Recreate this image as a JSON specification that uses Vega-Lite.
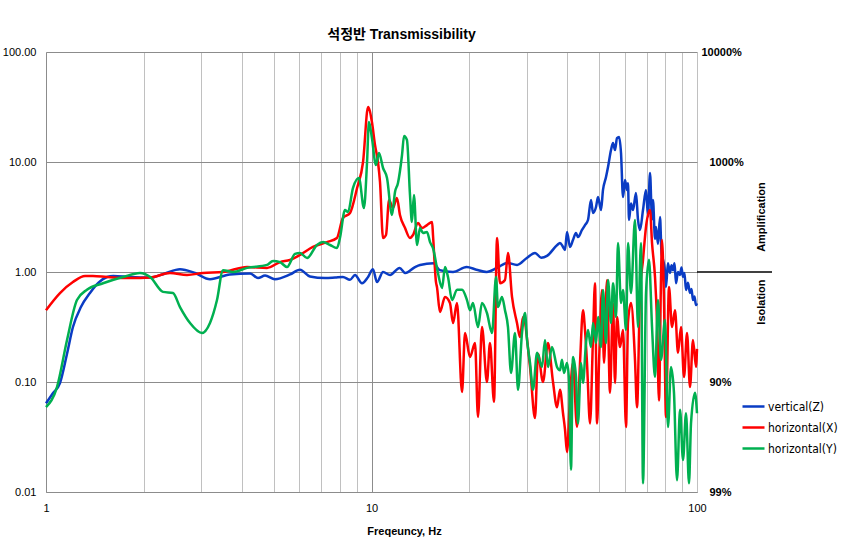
{
  "$schema": "https://vega.github.io/schema/vega-lite/v6.json",
  "width": 651,
  "height": 440,
  "autosize": {"type": "none"},
  "padding": {"left": 46, "top": 52, "right": 148, "bottom": 51},
  "background": "white",
  "title": {"text": "석정반 Transmissibility", "font": "Liberation Sans, Noto Sans CJK KR", "fontSize": 14, "fontWeight": "bold", "dx": 30, "offset": 4, "color": "black"},
  "layer": [
    {
      "data": {"values": [
        {"s":"vertical(Z)","f":1,"v":0.064},{"s":"vertical(Z)","f":1.05,"v":0.079},{"s":"vertical(Z)","f":1.104,"v":0.098},{"s":"vertical(Z)","f":1.16,"v":0.18},{"s":"vertical(Z)","f":1.21,"v":0.316},{"s":"vertical(Z)","f":1.28,"v":0.48},{"s":"vertical(Z)","f":1.365,"v":0.644},{"s":"vertical(Z)","f":1.45,"v":0.8},{"s":"vertical(Z)","f":1.54,"v":0.9},{"s":"vertical(Z)","f":1.61,"v":0.92},{"s":"vertical(Z)","f":1.81,"v":0.9},{"s":"vertical(Z)","f":2.09,"v":0.89},{"s":"vertical(Z)","f":2.32,"v":0.97},{"s":"vertical(Z)","f":2.58,"v":1.06},{"s":"vertical(Z)","f":2.87,"v":0.98},{"s":"vertical(Z)","f":3.19,"v":0.86},{"s":"vertical(Z)","f":3.67,"v":0.95},{"s":"vertical(Z)","f":4.24,"v":0.97},{"s":"vertical(Z)","f":4.48,"v":0.88},{"s":"vertical(Z)","f":4.71,"v":0.93},{"s":"vertical(Z)","f":5.05,"v":0.86},{"s":"vertical(Z)","f":5.62,"v":0.95},{"s":"vertical(Z)","f":6.03,"v":1.05},{"s":"vertical(Z)","f":6.47,"v":0.91},{"s":"vertical(Z)","f":7.2,"v":0.88},{"s":"vertical(Z)","f":7.73,"v":0.89},{"s":"vertical(Z)","f":8.17,"v":0.9},{"s":"vertical(Z)","f":8.59,"v":0.85},{"s":"vertical(Z)","f":8.9,"v":0.94},{"s":"vertical(Z)","f":9.35,"v":0.79},{"s":"vertical(Z)","f":9.76,"v":0.9},{"s":"vertical(Z)","f":10.1,"v":1.06},{"s":"vertical(Z)","f":10.4,"v":0.81},{"s":"vertical(Z)","f":10.85,"v":1.0},{"s":"vertical(Z)","f":11.4,"v":0.94},{"s":"vertical(Z)","f":12.2,"v":1.09},{"s":"vertical(Z)","f":12.7,"v":0.98},{"s":"vertical(Z)","f":13.6,"v":1.11},{"s":"vertical(Z)","f":14.1,"v":1.16},{"s":"vertical(Z)","f":15.5,"v":1.2},{"s":"vertical(Z)","f":16.2,"v":1.04},{"s":"vertical(Z)","f":17.8,"v":1.0},{"s":"vertical(Z)","f":19.6,"v":1.11},{"s":"vertical(Z)","f":21,"v":1.05},{"s":"vertical(Z)","f":22.6,"v":1.0},{"s":"vertical(Z)","f":24.3,"v":1.09},{"s":"vertical(Z)","f":26.1,"v":1.21},{"s":"vertical(Z)","f":28.0,"v":1.16},{"s":"vertical(Z)","f":30.0,"v":1.34},{"s":"vertical(Z)","f":31.8,"v":1.49},{"s":"vertical(Z)","f":33.2,"v":1.35},{"s":"vertical(Z)","f":34.6,"v":1.4},{"s":"vertical(Z)","f":37.2,"v":1.76},{"s":"vertical(Z)","f":37.94,"v":1.835},{"s":"vertical(Z)","f":38.76,"v":1.69},{"s":"vertical(Z)","f":39.31,"v":1.585},{"s":"vertical(Z)","f":39.87,"v":2.31},{"s":"vertical(Z)","f":40.72,"v":1.69},{"s":"vertical(Z)","f":41.59,"v":1.95},{"s":"vertical(Z)","f":42.49,"v":2.26},{"s":"vertical(Z)","f":43.09,"v":2.08},{"s":"vertical(Z)","f":44.33,"v":2.41},{"s":"vertical(Z)","f":45.28,"v":2.67},{"s":"vertical(Z)","f":46.25,"v":2.97},{"s":"vertical(Z)","f":47.25,"v":4.51},{"s":"vertical(Z)","f":47.92,"v":3.44},{"s":"vertical(Z)","f":48.95,"v":3.9},{"s":"vertical(Z)","f":49.65,"v":4.8},{"s":"vertical(Z)","f":50.71,"v":3.66},{"s":"vertical(Z)","f":51.43,"v":5.57},{"s":"vertical(Z)","f":52.54,"v":7.3},{"s":"vertical(Z)","f":53.29,"v":9.0},{"s":"vertical(Z)","f":54.43,"v":12.85},{"s":"vertical(Z)","f":55.21,"v":14.9},{"s":"vertical(Z)","f":55.99,"v":12.85},{"s":"vertical(Z)","f":56.78,"v":16.5},{"s":"vertical(Z)","f":57.6,"v":16.9},{"s":"vertical(Z)","f":58.42,"v":12.07},{"s":"vertical(Z)","f":59.25,"v":4.8},{"s":"vertical(Z)","f":60.1,"v":6.86},{"s":"vertical(Z)","f":60.95,"v":5.57},{"s":"vertical(Z)","f":61.38,"v":6.4},{"s":"vertical(Z)","f":61.82,"v":2.97},{"s":"vertical(Z)","f":62.7,"v":4.2},{"s":"vertical(Z)","f":63.59,"v":3.66},{"s":"vertical(Z)","f":64.95,"v":5.23},{"s":"vertical(Z)","f":65.87,"v":3.0},{"s":"vertical(Z)","f":66.82,"v":2.41},{"s":"vertical(Z)","f":68.25,"v":3.66},{"s":"vertical(Z)","f":69.72,"v":5.57},{"s":"vertical(Z)","f":70.7,"v":3.2},{"s":"vertical(Z)","f":71.72,"v":7.95},{"s":"vertical(Z)","f":72.75,"v":3.0},{"s":"vertical(Z)","f":73.25,"v":4.51},{"s":"vertical(Z)","f":74.3,"v":2.0},{"s":"vertical(Z)","f":74.82,"v":2.57},{"s":"vertical(Z)","f":75.88,"v":1.8},{"s":"vertical(Z)","f":76.98,"v":3.16},{"s":"vertical(Z)","f":77.8,"v":1.5},{"s":"vertical(Z)","f":78.63,"v":1.29},{"s":"vertical(Z)","f":79.5,"v":1.1},{"s":"vertical(Z)","f":80.31,"v":0.73},{"s":"vertical(Z)","f":81.4,"v":1.2},{"s":"vertical(Z)","f":82.62,"v":0.98},{"s":"vertical(Z)","f":83.5,"v":1.15},{"s":"vertical(Z)","f":84.39,"v":1.04},{"s":"vertical(Z)","f":85.3,"v":1.2},{"s":"vertical(Z)","f":86.2,"v":0.79},{"s":"vertical(Z)","f":87.4,"v":1.0},{"s":"vertical(Z)","f":88.68,"v":0.94},{"s":"vertical(Z)","f":89.6,"v":1.1},{"s":"vertical(Z)","f":90.58,"v":0.9},{"s":"vertical(Z)","f":91.5,"v":0.98},{"s":"vertical(Z)","f":92.52,"v":0.686},{"s":"vertical(Z)","f":93.8,"v":0.8},{"s":"vertical(Z)","f":95.17,"v":0.644},{"s":"vertical(Z)","f":96.2,"v":0.7},{"s":"vertical(Z)","f":97.21,"v":0.556},{"s":"vertical(Z)","f":98.2,"v":0.6},{"s":"vertical(Z)","f":99.29,"v":0.5},{"s":"vertical(Z)","f":100,"v":0.52},
        {"s":"horizontal(X)","f":1,"v":0.45},{"s":"horizontal(X)","f":1.104,"v":0.644},{"s":"horizontal(X)","f":1.21,"v":0.81},{"s":"horizontal(X)","f":1.318,"v":0.92},{"s":"horizontal(X)","f":1.394,"v":0.92},{"s":"horizontal(X)","f":1.54,"v":0.9},{"s":"horizontal(X)","f":1.81,"v":0.88},{"s":"horizontal(X)","f":2.09,"v":0.89},{"s":"horizontal(X)","f":2.404,"v":0.98},{"s":"horizontal(X)","f":2.712,"v":0.94},{"s":"horizontal(X)","f":3.036,"v":0.98},{"s":"horizontal(X)","f":3.498,"v":1.0},{"s":"horizontal(X)","f":4.146,"v":1.11},{"s":"horizontal(X)","f":4.775,"v":1.09},{"s":"horizontal(X)","f":5.236,"v":1.23},{"s":"horizontal(X)","f":5.62,"v":1.29},{"s":"horizontal(X)","f":6.03,"v":1.43},{"s":"horizontal(X)","f":6.61,"v":1.69},{"s":"horizontal(X)","f":7.3,"v":1.87},{"s":"horizontal(X)","f":7.83,"v":2.04},{"s":"horizontal(X)","f":8.17,"v":3.1},{"s":"horizontal(X)","f":8.59,"v":3.44},{"s":"horizontal(X)","f":9.03,"v":5.8},{"s":"horizontal(X)","f":9.42,"v":10},{"s":"horizontal(X)","f":9.76,"v":31.6},{"s":"horizontal(X)","f":10.03,"v":23.1},{"s":"horizontal(X)","f":10.25,"v":14.3},{"s":"horizontal(X)","f":10.47,"v":10},{"s":"horizontal(X)","f":10.62,"v":6.58},{"s":"horizontal(X)","f":10.85,"v":2.04},{"s":"horizontal(X)","f":11.08,"v":2.17},{"s":"horizontal(X)","f":11.32,"v":4.51},{"s":"horizontal(X)","f":11.64,"v":3.82},{"s":"horizontal(X)","f":11.97,"v":4.71},{"s":"horizontal(X)","f":12.23,"v":3.3},{"s":"horizontal(X)","f":12.68,"v":2.51},{"s":"horizontal(X)","f":13.13,"v":2.04},{"s":"horizontal(X)","f":13.41,"v":2.17},{"s":"horizontal(X)","f":13.9,"v":2.79},{"s":"horizontal(X)","f":14.29,"v":2.51},{"s":"horizontal(X)","f":14.81,"v":2.67},{"s":"horizontal(X)","f":15.35,"v":2.85},{"s":"horizontal(X)","f":15.45,"v":2.17},{"s":"horizontal(X)","f":15.78,"v":0.81},{"s":"horizontal(X)","f":15.89,"v":0.73},{"s":"horizontal(X)","f":16.23,"v":0.433},{"s":"horizontal(X)","f":16.82,"v":0.593},{"s":"horizontal(X)","f":17.42,"v":0.523},{"s":"horizontal(X)","f":17.8,"v":0.344},{"s":"horizontal(X)","f":18.31,"v":0.523},{"s":"horizontal(X)","f":18.97,"v":0.081},{"s":"horizontal(X)","f":19.38,"v":0.279},{"s":"horizontal(X)","f":20.07,"v":0.169},{"s":"horizontal(X)","f":20.8,"v":0.226},{"s":"horizontal(X)","f":21.24,"v":0.048},{"s":"horizontal(X)","f":21.85,"v":0.316},{"s":"horizontal(X)","f":22.63,"v":0.1},{"s":"horizontal(X)","f":23.12,"v":0.226},{"s":"horizontal(X)","f":23.79,"v":0.066},{"s":"horizontal(X)","f":24.3,"v":2.04},{"s":"horizontal(X)","f":24.82,"v":0.79},{"s":"horizontal(X)","f":25.71,"v":0.846},{"s":"horizontal(X)","f":26.26,"v":1.49},{"s":"horizontal(X)","f":27.02,"v":0.593},{"s":"horizontal(X)","f":27.99,"v":0.344},{"s":"horizontal(X)","f":28.59,"v":0.256},{"s":"horizontal(X)","f":29.21,"v":0.39},{"s":"horizontal(X)","f":30.69,"v":0.137},{"s":"horizontal(X)","f":31.79,"v":0.047},{"s":"horizontal(X)","f":32.48,"v":0.18},{"s":"horizontal(X)","f":33.64,"v":0.1},{"s":"horizontal(X)","f":34.85,"v":0.226},{"s":"horizontal(X)","f":36.11,"v":0.1},{"s":"horizontal(X)","f":37.15,"v":0.059},{"s":"horizontal(X)","f":37.94,"v":0.085},{"s":"horizontal(X)","f":38.76,"v":0.052},{"s":"horizontal(X)","f":39.31,"v":0.037},{"s":"horizontal(X)","f":39.87,"v":0.023},{"s":"horizontal(X)","f":40.72,"v":0.073},{"s":"horizontal(X)","f":41.59,"v":0.149},{"s":"horizontal(X)","f":42.79,"v":0.039},{"s":"horizontal(X)","f":43.71,"v":0.149},{"s":"horizontal(X)","f":44.64,"v":0.45},{"s":"horizontal(X)","f":45.28,"v":0.297},{"s":"horizontal(X)","f":45.93,"v":0.149},{"s":"horizontal(X)","f":46.92,"v":0.042},{"s":"horizontal(X)","f":47.92,"v":0.256},{"s":"horizontal(X)","f":48.6,"v":0.79},{"s":"horizontal(X)","f":49.3,"v":0.042},{"s":"horizontal(X)","f":50.0,"v":0.149},{"s":"horizontal(X)","f":51.07,"v":0.686},{"s":"horizontal(X)","f":51.8,"v":0.149},{"s":"horizontal(X)","f":52.91,"v":0.846},{"s":"horizontal(X)","f":54.04,"v":0.08},{"s":"horizontal(X)","f":55.21,"v":0.523},{"s":"horizontal(X)","f":55.99,"v":0.098},{"s":"horizontal(X)","f":56.78,"v":0.39},{"s":"horizontal(X)","f":58.0,"v":0.208},{"s":"horizontal(X)","f":59.25,"v":0.297},{"s":"horizontal(X)","f":60.53,"v":0.039},{"s":"horizontal(X)","f":61.38,"v":0.35},{"s":"horizontal(X)","f":62.7,"v":0.523},{"s":"horizontal(X)","f":64.49,"v":0.159},{"s":"horizontal(X)","f":65.42,"v":0.059},{"s":"horizontal(X)","f":66.82,"v":0.644},{"s":"horizontal(X)","f":68.25,"v":1.29},{"s":"horizontal(X)","f":69.72,"v":2.57},{"s":"horizontal(X)","f":71.72,"v":3.66},{"s":"horizontal(X)","f":72.75,"v":1.835},{"s":"horizontal(X)","f":74.3,"v":0.9},{"s":"horizontal(X)","f":75.35,"v":0.366},{"s":"horizontal(X)","f":76.42,"v":0.068},{"s":"horizontal(X)","f":77.51,"v":0.846},{"s":"horizontal(X)","f":78.07,"v":1.95},{"s":"horizontal(X)","f":79.17,"v":0.556},{"s":"horizontal(X)","f":80.31,"v":0.048},{"s":"horizontal(X)","f":82.03,"v":0.73},{"s":"horizontal(X)","f":83.79,"v":0.316},{"s":"horizontal(X)","f":85.59,"v":0.45},{"s":"horizontal(X)","f":87.42,"v":0.184},{"s":"horizontal(X)","f":89.3,"v":0.316},{"s":"horizontal(X)","f":91.23,"v":0.111},{"s":"horizontal(X)","f":93.18,"v":0.279},{"s":"horizontal(X)","f":95.17,"v":0.09},{"s":"horizontal(X)","f":97.21,"v":0.241},{"s":"horizontal(X)","f":99.29,"v":0.137},{"s":"horizontal(X)","f":100,"v":0.2},
        {"s":"horizontal(Y)","f":1,"v":0.059},{"s":"horizontal(Y)","f":1.081,"v":0.09},{"s":"horizontal(Y)","f":1.16,"v":0.24},{"s":"horizontal(Y)","f":1.245,"v":0.556},{"s":"horizontal(Y)","f":1.336,"v":0.69},{"s":"horizontal(Y)","f":1.497,"v":0.79},{"s":"horizontal(Y)","f":1.724,"v":0.9},{"s":"horizontal(Y)","f":1.944,"v":0.98},{"s":"horizontal(Y)","f":2.09,"v":0.9},{"s":"horizontal(Y)","f":2.288,"v":0.66},{"s":"horizontal(Y)","f":2.455,"v":0.644},{"s":"horizontal(Y)","f":2.58,"v":0.48},{"s":"horizontal(Y)","f":2.77,"v":0.344},{"s":"horizontal(Y)","f":3.015,"v":0.279},{"s":"horizontal(Y)","f":3.19,"v":0.344},{"s":"horizontal(Y)","f":3.352,"v":0.556},{"s":"horizontal(Y)","f":3.498,"v":1.04},{"s":"horizontal(Y)","f":3.754,"v":1.0},{"s":"horizontal(Y)","f":4.146,"v":1.09},{"s":"horizontal(Y)","f":4.775,"v":1.16},{"s":"horizontal(Y)","f":4.983,"v":1.26},{"s":"horizontal(Y)","f":5.236,"v":1.23},{"s":"horizontal(Y)","f":5.5,"v":1.11},{"s":"horizontal(Y)","f":5.82,"v":1.46},{"s":"horizontal(Y)","f":6.03,"v":1.49},{"s":"horizontal(Y)","f":6.34,"v":1.34},{"s":"horizontal(Y)","f":6.8,"v":1.76},{"s":"horizontal(Y)","f":7.1,"v":1.87},{"s":"horizontal(Y)","f":7.46,"v":1.76},{"s":"horizontal(Y)","f":7.83,"v":1.65},{"s":"horizontal(Y)","f":8.0,"v":2.04},{"s":"horizontal(Y)","f":8.29,"v":3.66},{"s":"horizontal(Y)","f":8.47,"v":3.51},{"s":"horizontal(Y)","f":8.77,"v":5.8},{"s":"horizontal(Y)","f":9.15,"v":7.16},{"s":"horizontal(Y)","f":9.48,"v":3.82},{"s":"horizontal(Y)","f":9.69,"v":10},{"s":"horizontal(Y)","f":9.82,"v":23.1},{"s":"horizontal(Y)","f":10.03,"v":16.5},{"s":"horizontal(Y)","f":10.32,"v":9.39},{"s":"horizontal(Y)","f":10.54,"v":12.07},{"s":"horizontal(Y)","f":10.85,"v":8.82},{"s":"horizontal(Y)","f":11.16,"v":7.16},{"s":"horizontal(Y)","f":11.56,"v":3.3},{"s":"horizontal(Y)","f":11.81,"v":5.34},{"s":"horizontal(Y)","f":12.06,"v":6.45},{"s":"horizontal(Y)","f":12.41,"v":11.58},{"s":"horizontal(Y)","f":12.59,"v":17.2},{"s":"horizontal(Y)","f":12.85,"v":15.85},{"s":"horizontal(Y)","f":13.13,"v":5.01},{"s":"horizontal(Y)","f":13.31,"v":2.85},{"s":"horizontal(Y)","f":13.5,"v":5.01},{"s":"horizontal(Y)","f":13.8,"v":1.76},{"s":"horizontal(Y)","f":14.09,"v":2.51},{"s":"horizontal(Y)","f":14.39,"v":2.26},{"s":"horizontal(Y)","f":14.81,"v":2.31},{"s":"horizontal(Y)","f":15.13,"v":1.87},{"s":"horizontal(Y)","f":15.45,"v":1.65},{"s":"horizontal(Y)","f":16.0,"v":0.98},{"s":"horizontal(Y)","f":16.47,"v":0.715},{"s":"horizontal(Y)","f":16.82,"v":1.11},{"s":"horizontal(Y)","f":17.18,"v":0.9},{"s":"horizontal(Y)","f":17.68,"v":0.556},{"s":"horizontal(Y)","f":18.31,"v":0.69},{"s":"horizontal(Y)","f":18.97,"v":0.69},{"s":"horizontal(Y)","f":19.65,"v":0.556},{"s":"horizontal(Y)","f":20.07,"v":0.45},{"s":"horizontal(Y)","f":20.5,"v":0.523},{"s":"horizontal(Y)","f":21.24,"v":0.316},{"s":"horizontal(Y)","f":21.85,"v":0.523},{"s":"horizontal(Y)","f":22.63,"v":0.424},{"s":"horizontal(Y)","f":23.46,"v":0.279},{"s":"horizontal(Y)","f":24.13,"v":0.9},{"s":"horizontal(Y)","f":24.47,"v":0.48},{"s":"horizontal(Y)","f":25.17,"v":0.593},{"s":"horizontal(Y)","f":25.71,"v":0.45},{"s":"horizontal(Y)","f":26.26,"v":0.316},{"s":"horizontal(Y)","f":26.83,"v":0.121},{"s":"horizontal(Y)","f":27.6,"v":0.279},{"s":"horizontal(Y)","f":28.19,"v":0.085},{"s":"horizontal(Y)","f":29.0,"v":0.279},{"s":"horizontal(Y)","f":29.62,"v":0.424},{"s":"horizontal(Y)","f":30.05,"v":0.241},{"s":"horizontal(Y)","f":30.69,"v":0.149},{"s":"horizontal(Y)","f":31.35,"v":0.085},{"s":"horizontal(Y)","f":32.25,"v":0.184},{"s":"horizontal(Y)","f":33.41,"v":0.137},{"s":"horizontal(Y)","f":34.12,"v":0.241},{"s":"horizontal(Y)","f":34.85,"v":0.137},{"s":"horizontal(Y)","f":35.85,"v":0.208},{"s":"horizontal(Y)","f":37.15,"v":0.137},{"s":"horizontal(Y)","f":37.94,"v":0.128},{"s":"horizontal(Y)","f":38.48,"v":0.159},{"s":"horizontal(Y)","f":39.03,"v":0.121},{"s":"horizontal(Y)","f":39.87,"v":0.149},{"s":"horizontal(Y)","f":40.44,"v":0.104},{"s":"horizontal(Y)","f":41.01,"v":0.016},{"s":"horizontal(Y)","f":41.59,"v":0.169},{"s":"horizontal(Y)","f":42.49,"v":0.111},{"s":"horizontal(Y)","f":43.09,"v":0.042},{"s":"horizontal(Y)","f":44.02,"v":0.149},{"s":"horizontal(Y)","f":44.64,"v":0.098},{"s":"horizontal(Y)","f":45.6,"v":0.226},{"s":"horizontal(Y)","f":46.25,"v":0.297},{"s":"horizontal(Y)","f":47.25,"v":0.208},{"s":"horizontal(Y)","f":47.92,"v":0.344},{"s":"horizontal(Y)","f":48.95,"v":0.226},{"s":"horizontal(Y)","f":49.65,"v":0.39},{"s":"horizontal(Y)","f":50.71,"v":0.208},{"s":"horizontal(Y)","f":51.43,"v":0.686},{"s":"horizontal(Y)","f":52.54,"v":0.226},{"s":"horizontal(Y)","f":53.29,"v":0.846},{"s":"horizontal(Y)","f":54.43,"v":0.344},{"s":"horizontal(Y)","f":55.21,"v":0.79},{"s":"horizontal(Y)","f":56.39,"v":0.39},{"s":"horizontal(Y)","f":57.19,"v":1.835},{"s":"horizontal(Y)","f":58.42,"v":0.523},{"s":"horizontal(Y)","f":59.25,"v":0.686},{"s":"horizontal(Y)","f":60.53,"v":0.297},{"s":"horizontal(Y)","f":61.38,"v":1.835},{"s":"horizontal(Y)","f":62.7,"v":0.644},{"s":"horizontal(Y)","f":64.49,"v":2.97},{"s":"horizontal(Y)","f":65.87,"v":0.316},{"s":"horizontal(Y)","f":67.3,"v":1.835},{"s":"horizontal(Y)","f":68.25,"v":0.012},{"s":"horizontal(Y)","f":69.72,"v":0.644},{"s":"horizontal(Y)","f":71.21,"v":1.29},{"s":"horizontal(Y)","f":72.75,"v":0.316},{"s":"horizontal(Y)","f":74.3,"v":0.111},{"s":"horizontal(Y)","f":75.88,"v":0.556},{"s":"horizontal(Y)","f":77.51,"v":0.159},{"s":"horizontal(Y)","f":79.74,"v":0.366},{"s":"horizontal(Y)","f":81.45,"v":0.039},{"s":"horizontal(Y)","f":83.2,"v":0.137},{"s":"horizontal(Y)","f":84.97,"v":0.08},{"s":"horizontal(Y)","f":86.82,"v":0.0128},{"s":"horizontal(Y)","f":88.68,"v":0.056},{"s":"horizontal(Y)","f":90.58,"v":0.0195},{"s":"horizontal(Y)","f":92.52,"v":0.052},{"s":"horizontal(Y)","f":94.5,"v":0.012},{"s":"horizontal(Y)","f":95.85,"v":0.042},{"s":"horizontal(Y)","f":98.6,"v":0.08},{"s":"horizontal(Y)","f":100,"v":0.052}
      ]},
      "mark": {"type": "line", "strokeWidth": 2.5, "interpolate": "monotone", "strokeJoin": "round"},
      "encoding": {
        "x": {
          "field": "f", "type": "quantitative",
          "scale": {"type": "log", "domain": [1, 100], "nice": false},
          "axis": {
            "values": [1, 2, 3, 4, 5, 6, 7, 8, 9, 10, 20, 30, 40, 50, 60, 70, 80, 90, 100],
            "format": "d",
            "labelExpr": "indexof([1, 10, 100], datum.value) >= 0 ? datum.label : ''",
            "labelFlush": false,
            "ticks": false,
            "labelPadding": 10,
            "labelFontSize": 11,
            "labelFont": "Liberation Sans",
            "labelColor": "black",
            "domainColor": "#8c8c8c",
            "gridColor": {"condition": {"test": "datum.value == 10", "value": "#8c8c8c"}, "value": "#c0c0c0"},
            "title": "Freqeuncy, Hz",
            "titleFont": "Liberation Sans Narrow, Liberation Sans",
            "titleFontSize": 11,
            "titleFontWeight": "bold",
            "titleColor": "black",
            "titleX": 358,
            "titleY": 39,
            "titleBaseline": "middle"
          }
        },
        "y": {
          "field": "v", "type": "quantitative",
          "scale": {"type": "log", "domain": [0.01, 100], "nice": false},
          "axis": {
            "values": [0.01, 0.1, 1, 10, 100],
            "format": ".2f",
            "ticks": false,
            "labelPadding": 10,
            "labelFontSize": 11,
            "labelFont": "Liberation Sans",
            "labelColor": "black",
            "domainColor": "#8c8c8c",
            "gridColor": "#8c8c8c",
            "title": null
          }
        },
        "color": {
          "field": "s", "type": "nominal",
          "scale": {"domain": ["vertical(Z)", "horizontal(X)", "horizontal(Y)"], "range": ["#0a3cc4", "#ff0000", "#00b050"]},
          "legend": {
            "orient": "none", "legendX": 695, "legendY": 342, "title": null,
            "symbolType": "stroke", "symbolSize": 484, "symbolStrokeWidth": 2.5,
            "labelFont": "Liberation Sans Narrow, DejaVu Sans Condensed, sans-serif",
            "labelFontSize": 12, "labelColor": "black", "labelOffset": 2, "rowPadding": 2
          }
        }
      }
    },
    {
      "data": {"values": [{"f": 100, "f2": 170, "v": 1}]},
      "mark": {"type": "rule", "color": "black", "strokeWidth": 1.3},
      "encoding": {
        "x": {"field": "f", "type": "quantitative", "scale": {"type": "log", "domain": [1, 100], "nice": false}, "axis": null},
        "x2": {"field": "f2"},
        "y": {
          "field": "v", "type": "quantitative",
          "scale": {"type": "log", "domain": [0.01, 100], "nice": false},
          "axis": {
            "orient": "right",
            "values": [0.01, 0.1, 10, 100],
            "labelExpr": "datum.value == 100 ? '10000%' : datum.value == 10 ? '1000%' : datum.value == 0.1 ? '90%' : '99%'",
            "domain": false, "ticks": false, "grid": false,
            "labelAlign": "left",
            "labelPadding": {"condition": {"test": "datum.value == 100", "value": 4}, "value": 12},
            "labelFont": "Liberation Sans", "labelFontSize": 11, "labelFontWeight": "bold", "labelColor": "black",
            "title": null
          }
        }
      }
    },
    {
      "data": {"values": [{"f": 158, "v": 3.16, "t": "Amplification"}, {"f": 158, "v": 0.533, "t": "Isolation"}]},
      "mark": {"type": "text", "angle": 270, "align": "center", "baseline": "middle", "font": "Liberation Sans", "fontSize": 11, "fontWeight": "bold", "color": "black"},
      "encoding": {
        "x": {"field": "f", "type": "quantitative", "scale": {"type": "log", "domain": [1, 100], "nice": false}, "axis": null},
        "y": {"field": "v", "type": "quantitative", "scale": {"type": "log", "domain": [0.01, 100], "nice": false}, "axis": null},
        "text": {"field": "t"}
      }
    }
  ],
  "resolve": {"axis": {"x": "independent", "y": "independent"}},
  "config": {"view": {"stroke": null}}
}
